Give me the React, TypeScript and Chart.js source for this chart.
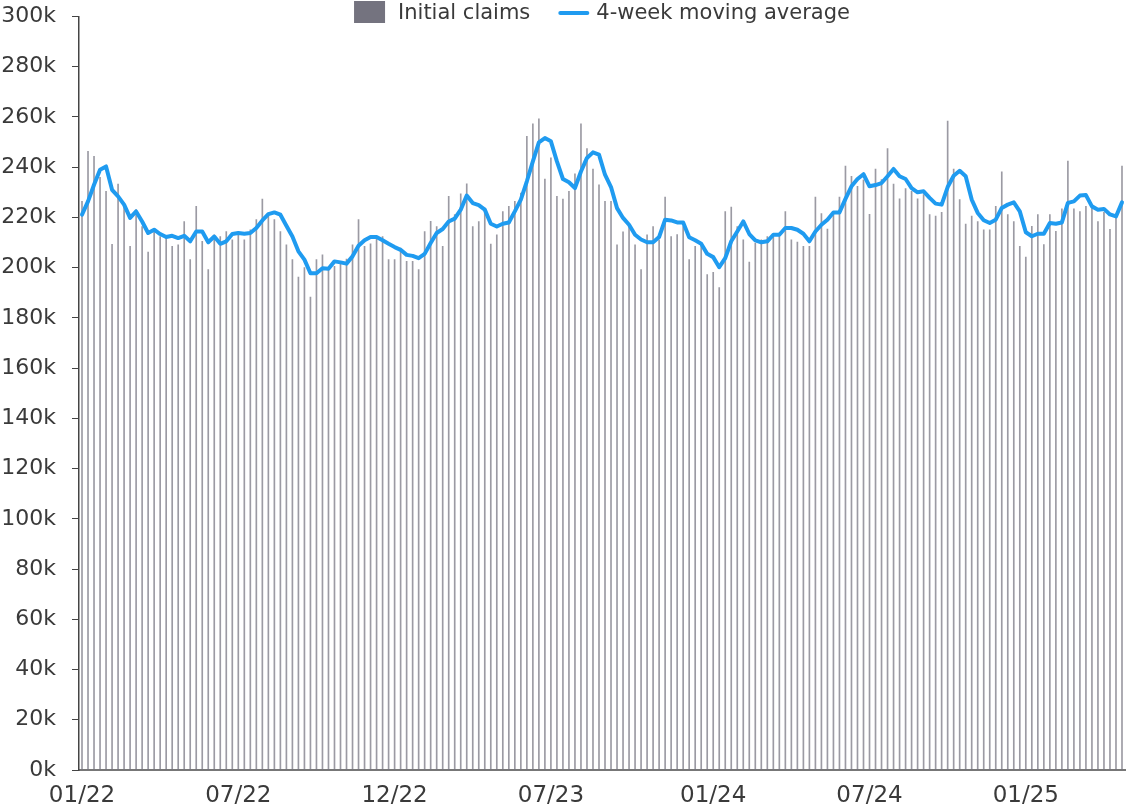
import React, { useEffect, useRef } from "react";
import { Chart, registerables } from "chart.js";

Chart.register(...registerables);

// Weekly initial jobless claims (thousands), weeks starting 2022-01-01
const claims: number[] = [
  226.4, 246.3, 244.3, 236.0, 230.4, 209.3, 233.3, 225.0, 208.5, 223.1,
  216.4, 206.2, 215.0, 212.4, 212.2, 208.5, 209.1, 218.3, 203.2, 224.4,
  210.5, 199.2, 213.1, 212.4, 214.4, 211.1, 213.1, 211.1, 215.1, 219.1,
  227.3, 221.7, 219.1, 214.4, 209.1, 203.2, 196.3, 200.0, 188.3, 203.2,
  205.1, 199.2, 200.5, 202.5, 203.4, 209.1, 219.1, 208.5, 209.5, 212.4,
  212.4, 203.2, 203.2, 207.8, 202.5, 202.5, 199.2, 214.4, 218.4, 216.4,
  208.5, 228.4, 221.1, 229.4, 233.4, 216.4, 218.3, 223.7, 209.4, 213.1,
  222.3, 224.4, 226.4, 229.7, 252.3, 257.3, 259.3, 235.3, 243.7, 228.4,
  227.3, 230.4, 237.4, 257.3, 247.4, 239.3, 233.0, 226.4, 226.4, 209.1,
  214.3, 216.4, 209.1, 199.2, 213.1, 216.4, 211.1, 228.1, 212.4, 213.2,
  216.4, 203.2, 208.5, 208.5, 197.2, 198.1, 192.1, 222.3, 224.1, 216.4,
  211.1, 202.2, 209.8, 211.1, 212.4, 212.4, 213.8, 222.3, 211.1, 210.2,
  208.5, 208.5, 228.1, 221.5, 215.4, 221.7, 228.1, 240.4, 236.4, 232.4,
  235.0, 221.2, 239.3, 235.1, 247.4, 233.3, 227.4, 231.5, 230.4, 227.4,
  229.1, 221.1, 220.5, 222.0, 258.4, 239.3, 227.1, 217.4, 220.5, 218.3,
  215.1, 215.1, 224.4, 238.2, 221.1, 218.3, 208.5, 204.2, 216.5, 221.1,
  209.2, 221.1, 214.5, 223.4, 242.4, 223.4, 222.3, 224.4, 223.8, 218.3,
  222.0, 215.3, 220.5, 240.4,
];

// 4-week moving average (thousands)
const movingAvg: number[] = [
  221.1, 226.4, 233.0, 239.0, 240.3, 231.0, 228.4, 225.1, 219.8, 222.4,
  218.4, 213.8, 215.1, 213.4, 212.2, 212.7, 211.8, 212.7, 210.5, 214.4,
  214.4, 210.1, 212.4, 209.5, 210.5, 213.4, 213.8, 213.5, 213.8, 215.8,
  218.8, 221.3, 222.0, 221.1, 216.7, 212.4, 206.5, 203.2, 197.8, 197.8,
  199.8, 199.6, 202.5, 202.1, 201.6, 204.5, 208.7, 210.9, 212.2, 212.2,
  210.9, 209.5, 208.2, 207.1, 205.1, 204.7, 203.8, 205.5, 209.8, 213.8,
  215.4, 218.4, 219.5, 223.1, 228.7, 225.7, 224.9, 223.1, 217.5, 216.4,
  217.5, 218.0, 222.4, 227.1, 234.4, 242.3, 249.9, 251.6, 250.3, 242.3,
  235.3, 234.0, 231.7, 238.3, 243.7, 245.9, 245.0, 237.0, 232.1, 223.7,
  219.8, 217.1, 213.1, 211.2, 210.1, 210.1, 212.2, 219.1, 218.8, 218.0,
  218.0, 212.1, 210.9, 209.5, 205.5, 204.2, 200.2, 203.8, 210.5, 214.4,
  218.4, 213.4, 210.9, 210.1, 210.5, 213.1, 213.1, 215.8, 215.8, 215.1,
  213.5, 210.5, 214.4, 217.1, 219.1, 222.0, 222.0, 227.4, 232.4, 235.3,
  237.2, 232.4, 232.9, 233.7, 236.4, 239.3, 236.4, 235.3, 231.7, 230.0,
  230.4, 227.8, 225.5, 225.1, 232.1, 236.6, 238.6, 236.4, 227.1, 221.8,
  218.9, 217.8, 219.1, 223.8, 225.1, 226.0, 222.4, 214.1, 212.5, 213.5,
  213.5, 217.8, 217.5, 218.0, 225.8, 226.4, 228.7, 228.9, 224.4, 223.1,
  223.4, 221.2, 220.4, 226.0,
];

// Week-start categories
const firstWeek = "2022-01-01";
const weeks: string[] = claims.map((_, i) => {
  const d = new Date(firstWeek + "T00:00:00Z");
  d.setUTCDate(d.getUTCDate() + 7 * i);
  return d.toISOString().slice(0, 10);
});

// Shown tick labels and the week index they sit on
const tickIndex: number[] = [0, 26, 52, 78, 105, 131, 157];
const tickLabels: string[] = ["01/22", "07/22", "12/22", "07/23", "01/24", "07/24", "01/25"];

const seriesNames: string[] = ["Initial claims", "4-week moving average"];

const LEGEND_BOX_COLOR = "#74737f";
const BAR_COLOR = "rgba(116,115,127,0.72)";
const LINE_COLOR = "#1f9bf0";
const TEXT_COLOR = "#3a3a3a";
const FONT = '"DejaVu Sans", sans-serif';

const legendPlugin = {
  id: "topLegend",
  afterDraw(chart: any) {
    const ctx: CanvasRenderingContext2D = chart.ctx;
    const area = chart.chartArea;
    ctx.save();
    ctx.font = `21px ${FONT}`;
    ctx.textBaseline = "middle";
    ctx.textAlign = "left";
    const markW = 31;
    const boxGap = 13;
    const lineGap = 7;
    const itemGap = 28;
    const items = chart.data.datasets.map((ds: any) => ({
      text: ds.label as string,
      isLine: ds.type === "line",
      color: ds.type === "line" ? ds.borderColor : LEGEND_BOX_COLOR,
    }));
    const widths = items.map(
      (it: any) => markW + (it.isLine ? lineGap : boxGap) + ctx.measureText(it.text).width
    );
    const total = widths.reduce((a: number, b: number) => a + b, 0) + itemGap * (items.length - 1);
    let x = (area.left + area.right) / 2 - total / 2;
    const cy = 12;
    items.forEach((it: any, i: number) => {
      if (it.isLine) {
        ctx.strokeStyle = it.color;
        ctx.lineWidth = 4;
        ctx.lineCap = "round";
        ctx.beginPath();
        ctx.moveTo(x + 2, cy + 1);
        ctx.lineTo(x + markW - 2, cy + 1);
        ctx.stroke();
      } else {
        ctx.fillStyle = it.color;
        ctx.fillRect(x, cy - 11, markW, 22);
      }
      ctx.fillStyle = TEXT_COLOR;
      ctx.fillText(it.text, x + markW + (it.isLine ? lineGap : boxGap), cy + 2);
      x += widths[i] + itemGap;
    });
    ctx.restore();
  },
};

export default function App() {
  const canvasRef = useRef<HTMLCanvasElement | null>(null);

  useEffect(() => {
    if (!canvasRef.current) return;
    const chart = new Chart(canvasRef.current, {
      data: {
        labels: weeks,
        datasets: [
          {
            type: "bar",
            label: seriesNames[0],
            data: claims,
            backgroundColor: BAR_COLOR,
            barThickness: 1,
            order: 2,
          },
          {
            type: "line",
            label: seriesNames[1],
            data: movingAvg,
            borderColor: LINE_COLOR,
            backgroundColor: LINE_COLOR,
            borderWidth: 4,
            pointRadius: 0,
            tension: 0,
            borderJoinStyle: "round",
            borderCapStyle: "round",
            order: 1,
          },
        ],
      } as any,
      plugins: [legendPlugin],
      options: {
        animation: false,
        responsive: true,
        maintainAspectRatio: false,
        layout: { padding: { top: 16.5, right: 2, left: 0, bottom: 0 } },
        plugins: {
          legend: { display: false },
          tooltip: { enabled: false },
        },
        scales: {
          x: {
            type: "category",
            offset: true,
            grid: { display: false, drawTicks: false },
            border: { display: true, color: "#777777", width: 2 },
            afterFit: (s: any) => {
              s.height = 38;
              s.paddingLeft = 0;
              s.paddingRight = 0;
            },
            ticks: {
              autoSkip: false,
              maxRotation: 0,
              padding: 12,
              color: TEXT_COLOR,
              font: { family: FONT, size: 23 },
              callback: (_v: any, i: number) => {
                const k = tickIndex.indexOf(i);
                return k >= 0 ? tickLabels[k] : null;
              },
            },
          },
          y: {
            min: 0,
            max: 300,
            grid: {
              display: true,
              drawOnChartArea: false,
              drawTicks: true,
              tickLength: 7,
              color: "#444444",
            },
            border: { display: true, color: "#444444", width: 1.5 },
            afterFit: (s: any) => {
              s.width = 79;
              s.paddingTop = 0;
              s.paddingBottom = 0;
            },
            ticks: {
              stepSize: 20,
              padding: 16,
              color: TEXT_COLOR,
              font: { family: FONT, size: 22 },
              callback: (v: any) => `${v}k`,
            },
          },
        },
      },
    });
    return () => chart.destroy();
  }, []);

  return (
    <div style={{ position: "fixed", left: 0, top: 0, width: 1127, height: 808, background: "#ffffff" }}>
      <canvas ref={canvasRef} />
    </div>
  );
}
